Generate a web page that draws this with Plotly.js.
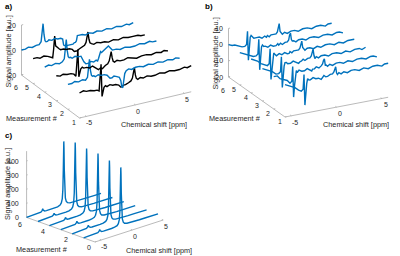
<!DOCTYPE html>
<html><head><meta charset="utf-8">
<script src="https://cdn.plot.ly/plotly-3.0.1.min.js"></script>
<style>html,body{margin:0;padding:0;background:#fff}#p{width:400px;height:256px}</style>
</head><body><div id="p"></div>
<script>
// ---------------- data ----------------
// chemical shift grid for panels a and b (ppm)
const shiftAB = [-5.7,-5.3,-5,-4.6,-4.2,-3.9,-3.7,-3.6,-3.5,-3.4,-3.3,-3.2,-3.05,-2.9,-2.6,-2.3,-2.0,-1.7,-1.5,-1.4,-1.2,-1.0,-0.7,-0.45,-0.3,-0.2,-0.1,0.0,0.1,0.25,0.5,0.8,1.2,1.6,2.0,2.5,3.0,3.5,4.0,4.5,5.0,5.3,5.7];
const measurements = [1,2,3,4,5,6];
// panel a (measurement 1..6; odd = black, even = blue)
const a1 = [0,1,0,0,-1,-1,-2,8,19,-7,-3,0,1,0,1,0,0,-1,-3,-3,-2,-2,-1,0,2,7,10,4,1,0,1,0,1,0,0,1,0,1,0,0,1,0,1];
const a2 = [0,0,1,0,1,0,2,10,16,7,3,2,2,1,2,1,1,0,-2,-3,-3,-2,-3,-4,-7,-12,-13,-6,-2,0,1,0,1,1,0,1,0,1,0,1,0,1,0];
const a3 = [0,-1,0,-1,-1,-2,-4,6,17,-5,-2,1,2,1,1,0,1,-1,-3,-3,-2,-3,-1,0,2,6,9,4,1,0,1,0,0,1,0,-1,0,0,-1,0,-1,0,-1];
const a4 = [0,1,0,1,0,1,3,12,18,9,4,3,3,2,3,2,2,-3,-5,-5,-5,-4,-5,-4,-5,-3,0,2,1,2,3,5,1,1,0,1,0,0,1,0,1,0,0];
const a5 = [0,0,-1,0,-1,-2,-3,4,14,6,5,4,3,2,2,1,1,0,-2,-2,-2,-1,0,1,3,8,11,5,2,1,0,1,0,0,-1,0,-1,0,-1,-1,-1,-2,-2];
const a6 = [0,0,1,0,1,1,3,10,17,8,3,2,2,3,2,3,2,2,1,-4,-5,-5,-5,-5,-4,-4,-3,1,1,1,1,0,1,0,1,0,1,0,1,0,1,0,1];
// panel b (measurement 1..6)
const b1 = [0,-1,-2,-3,-5,-6,-5,4,-15,-7,-2,1,0,0,1,0,0,-1,0,1,0,0,1,1,2,3,5,1,0,1,0,1,0,1,1,0,1,0,1,1,0,1,1];
const b2 = [0,0,-2,-3,-4,-6,-5,4,-15,-8,-1,1,0,1,0,0,1,0,-1,0,0,1,0,1,2,4,5,1,1,0,1,0,1,1,0,1,0,1,1,0,1,1,0];
const b3 = [0,-1,-2,-3,-5,-5,-4,5,-14,-7,-1,1,1,0,0,1,0,-1,0,0,1,0,1,1,2,4,6,2,0,1,0,1,1,0,1,1,0,1,0,1,1,0,1];
const b4 = [1,0,-1,-3,-4,-5,-4,5,-14,-7,0,2,1,0,1,0,1,0,0,1,0,1,1,1,2,4,6,2,1,0,1,1,0,1,0,1,1,0,1,0,1,1,1];
const b5 = [0,-1,-2,-3,-4,-4,-3,6,-13,-6,1,2,1,1,0,1,0,0,1,0,1,0,1,1,2,5,6,2,1,1,0,1,1,0,1,1,0,1,1,0,1,1,0];
const b6 = [0,-1,-1,-2,-3,-3,-2,6,-12,-5,2,3,2,1,1,1,0,1,0,1,0,1,1,1,2,5,7,2,1,0,1,0,1,1,0,1,1,0,1,1,0,1,1];
// panel c (measurement 1..6)
const shiftC = [-6,-5,-4.5,-4,-3.7,-3.5,-3.4,-3.3,-3.1,-2.8,-2.4,-2,-1.5,-1,-0.6,-0.4,-0.25,-0.15,-0.08,-0.03,0,0.03,0.08,0.15,0.25,0.4,0.6,1,1.5,2,3,4,5,6];
const c1 = [0,0,1,2,5,12,22,12,5,3,2,2,3,5,10,21,46,104,228,373,415,373,228,104,46,21,10,5,3,2,1,1,0,0];
const c2 = [0,0,1,2,5,13,24,13,5,3,2,2,3,5,11,22,48,109,239,392,435,392,239,109,48,22,11,5,3,2,1,1,0,0];
const c3 = [0,0,1,2,5,12,23,12,5,3,2,2,3,5,11,23,50,114,251,410,456,410,251,114,50,23,11,5,3,2,1,1,0,0];
const c4 = [0,0,1,2,4,11,21,11,4,3,2,2,3,5,12,23,51,116,254,416,462,416,254,116,51,23,12,5,3,2,1,1,0,0];
const c5 = [0,0,1,2,5,12,22,12,5,3,2,2,3,5,12,24,52,119,261,428,475,428,261,119,52,24,12,5,3,2,1,1,0,0];
const c6 = [0,0,1,2,5,13,24,13,5,3,2,2,3,4,11,23,50,114,250,409,454,409,250,114,50,23,11,4,3,2,1,1,0,0];
// tick labels
const xTicks = [-5,0,5];
const yTicksAB = [1,2,3,4,5,6];
const yTicksC = [0,2,4,6];
const zTicksA = [-20,0,20];
const zTicksB = [-20,-10,0,10];
const zTicksC = [0,100,200,300,400];
const xTitle = 'Chemical shift [ppm]';
const yTitle = 'Measurement #';
const zTitle = 'Signal amplitude [a.u.]';

// ---------------- views (oblique projection of each 3-D box) ----------------
const BLUE = '#0072BD', BLACK = '#000000', AXC = '#a8a8a8', TXC = '#262626';
const FONT = 'Liberation Sans, Arial, Helvetica, sans-serif';
const views = {
  a: {O:[79.5,118], xv:[9.8,-2.3], yv:[-11.6,-8.6], zv:[0,-1.25], xr:[-5.7,5.7], yr:[1,6], zr:[-20,20],
      xOff:[3,6.5], yOff:[-6,4], lastYDrop:8, zGap:3.5, titles:{x:[154,124], y:[32,118.5], z:[7.5,52]}},
  b: {O:[285,117], xv:[9.05,-1.73], yv:[-11.3,-8.0], zv:[0,-1.62], xr:[-5.7,5.7], yr:[1,6], zr:[-20,10],
      xOff:[3.7,6.5], yOff:[-5.5,4.5], lastYDrop:9, zGap:3.5, titles:{x:[356,124.5], y:[235,118], z:[214.5,54]}},
  c: {O:[95,242], xv:[6.2,-2.0], yv:[-11.4,-4.1], zv:[0,-0.141], xr:[-6,5], yr:[0,6], zr:[0,470],
      xOff:[3,6], yOff:[-6.5,5.5], lastYDrop:1.5, zGap:6, titles:{x:[158.5,250.5], y:[41.5,249], z:[7,184]}}
};
function P(v, x, y, z) {
  const dx = x - v.xr[0], dy = y - v.yr[0], dz = z - v.zr[0];
  return [v.O[0] + dx*v.xv[0] + dy*v.yv[0] + dz*v.zv[0],
          v.O[1] + dx*v.xv[1] + dy*v.yv[1] + dz*v.zv[1]];
}
const traces = [];
const ann = [];
function seg(v, p0, p1) {
  const a = P(v, ...p0), b = P(v, ...p1);
  traces.push({type:'scatter', mode:'lines', x:[a[0],b[0]], y:[a[1],b[1]],
    line:{color:AXC, width:0.8}, hoverinfo:'skip', showlegend:false});
}
function label(text, xy, opts) {
  ann.push(Object.assign({text:text, x:xy[0], y:xy[1], xref:'x', yref:'y', showarrow:false,
    xanchor:'center', yanchor:'middle', font:{size:7, color:TXC, family:FONT}}, opts || {}));
}
function drawAxes(v, yTicks, zTicks) {
  const [x0,x1] = v.xr, [y0,y1] = v.yr, [z0,z1] = v.zr;
  seg(v, [x0,y0,z0], [x1,y0,z0]);          // x axis (front edge)
  seg(v, [x0,y0,z0], [x0,y1,z0]);          // y axis (left edge)
  seg(v, [x0,y1,z0], [x0,y1,z1]);          // z axis (back-left edge)
  const ty = (y1-y0)*0.02, tx = (x1-x0)*0.015;
  xTicks.forEach(t => {
    seg(v, [t,y0,z0], [t,y0+ty,z0]);
    const p = P(v, t, y0, z0); label(String(t), [p[0]+v.xOff[0], p[1]+v.xOff[1]]);
  });
  yTicks.forEach((t, k) => {
    seg(v, [x0,t,z0], [x0+tx,t,z0]);
    const p = P(v, x0, t, z0);
    const drop = (k === yTicks.length - 1) ? v.lastYDrop : 0;   // last label sits below the z labels
    label(String(t), [p[0]+v.yOff[0], p[1]+v.yOff[1]+drop]);
  });
  zTicks.forEach(t => {
    seg(v, [x0,y1,t], [x0+tx,y1,t]);
    const p = P(v, x0, y1, t); label(String(t), [p[0]-v.zGap, p[1]], {xanchor:'right'});
  });
  label(xTitle, v.titles.x, {font:{size:7.3, color:TXC, family:FONT}});
  label(yTitle, v.titles.y, {font:{size:7.3, color:TXC, family:FONT}});
  label(zTitle, v.titles.z, {textangle:-90, font:{size:7.3, color:TXC, family:FONT}});
}
function drawSpectra(v, xs, series, colorFn) {
  series.forEach((vals, i) => {
    const m = measurements[i];
    const pts = xs.map((x, k) => P(v, x, m, vals[k]));
    traces.push({type:'scatter', mode:'lines', x:pts.map(p=>p[0]), y:pts.map(p=>p[1]),
      line:{color:colorFn(i), width:1.4}, hoverinfo:'skip', showlegend:false});
  });
}
drawAxes(views.a, yTicksAB, zTicksA);
drawAxes(views.b, yTicksAB, zTicksB);
drawAxes(views.c, yTicksC, zTicksC);
drawSpectra(views.a, shiftAB, [a1,a2,a3,a4,a5,a6], i => (i % 2 === 0 ? BLACK : BLUE));
drawSpectra(views.b, shiftAB, [b1,b2,b3,b4,b5,b6], () => BLUE);
drawSpectra(views.c, shiftC, [c1,c2,c3,c4,c5,c6], () => BLUE);

// panel letters
[['a)',[3,6]],['b)',[203,6]],['c)',[3,135]]].forEach(([t,p]) =>
  label('<b>'+t+'</b>', p, {xanchor:'left', font:{size:8, color:'#000', family:FONT}}));

const layout = {
  width:400, height:256, margin:{l:0,r:0,t:0,b:0},
  paper_bgcolor:'#fff', plot_bgcolor:'#fff', showlegend:false, hovermode:false,
  xaxis:{range:[0,400], visible:false, fixedrange:true},
  yaxis:{range:[256,0], visible:false, fixedrange:true},
  annotations: ann
};
Plotly.newPlot('p', traces, layout, {displayModeBar:false, staticPlot:true});
</script></body></html>
